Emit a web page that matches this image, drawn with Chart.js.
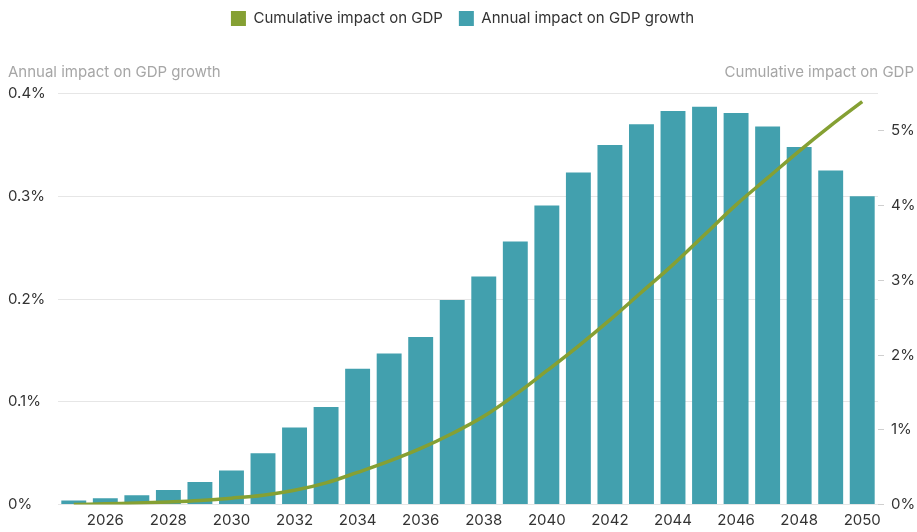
<!DOCTYPE html>
<html>
<head>
<meta charset="utf-8">
<script src="https://cdn.jsdelivr.net/npm/chart.js@4"></script>
<style>
  html, body { margin: 0; padding: 0; background: #fff; }
  #wrap { width: 917px; height: 532px; }
</style>
</head>
<body>
<div id="wrap"><canvas id="chart"></canvas></div>
<script>
const years = ['2025', '2026', '2027', '2028', '2029', '2030', '2031', '2032', '2033', '2034', '2035', '2036', '2037',
  '2038', '2039', '2040', '2041', '2042', '2043', '2044', '2045', '2046', '2047', '2048', '2049', '2050'];

// annual impact on GDP growth, % (left axis)
const annualImpact = [0.004, 0.006, 0.009, 0.014, 0.022, 0.033, 0.050, 0.075, 0.095, 0.132, 0.147, 0.163, 0.199,
  0.222, 0.256, 0.291, 0.323, 0.350, 0.370, 0.383, 0.387, 0.381, 0.368, 0.348, 0.325, 0.300];

// cumulative impact on GDP, % (right axis)
const cumulativeImpact = [0.0, 0.01, 0.02, 0.035, 0.055, 0.085, 0.125, 0.19, 0.29, 0.43, 0.58, 0.75, 0.95,
  1.18, 1.47, 1.79, 2.12, 2.47, 2.84, 3.21, 3.61, 4.01, 4.37, 4.73, 5.07, 5.39];

const leftTitle = 'Annual impact on GDP growth';
const rightTitle = 'Cumulative impact on GDP';

const FONT = 'Inter, "Noto Sans", sans-serif';

// axis titles sit horizontally above each y axis
const axisTitles = {
  id: 'axisTitles',
  afterDraw(chart) {
    const { ctx, chartArea } = chart;
    ctx.save();
    ctx.font = '15px ' + FONT;
    ctx.fillStyle = '#a6a6a6';
    ctx.textBaseline = 'middle';
    ctx.textAlign = 'left';
    ctx.fillText(leftTitle, 8, chartArea.top - 21);
    ctx.textAlign = 'right';
    ctx.fillText(rightTitle, chart.width - 3, chartArea.top - 21);
    ctx.restore();
  }
};

new Chart(document.getElementById('chart'), {
  data: {
    labels: years,
    datasets: [
      {
        type: 'line',
        label: 'Cumulative impact on GDP',
        data: cumulativeImpact,
        yAxisID: 'y2',
        borderColor: '#85a033',
        backgroundColor: '#85a033',
        borderWidth: 3.5,
        pointRadius: 0,
        tension: 0.4,
      },
      {
        type: 'bar',
        label: 'Annual impact on GDP growth',
        data: annualImpact,
        yAxisID: 'y',
        backgroundColor: '#42a0ae',
        categoryPercentage: 1,
        barPercentage: 0.79,
      },
    ],
  },
  options: {
    responsive: true,
    maintainAspectRatio: false,
    animation: false,
    layout: { padding: { left: 8, right: 0, top: -5, bottom: 0 } },
    plugins: {
      legend: {
        display: true,
        labels: {
          font: { family: FONT, size: 15 },
          color: '#333',
          boxWidth: 15,
          boxHeight: 15,
          padding: 16,
          generateLabels(chart) {
            const items = Chart.defaults.plugins.legend.labels.generateLabels(chart);
            items.forEach(it => { it.lineWidth = 0; });
            return items;
          },
        },
      },
      title: {
        display: true,
        text: ' ',
        weight: 500,
        font: { size: 15 },
        padding: { top: 19, bottom: 20.5 },
      },
      tooltip: { enabled: false },
    },
    scales: {
      x: {
        grid: { display: false, drawTicks: false },
        border: { display: false },
        ticks: {
          autoSkip: false,
          maxRotation: 0,
          padding: 7,
          color: '#333',
          font: { family: FONT, size: 15 },
          callback: (v, i) => (i % 2 === 1 ? years[i] : ''),
        },
        afterFit: s => { s.height = 27.5; },
      },
      y: {
        position: 'left',
        min: 0,
        max: 0.4,
        grid: { color: '#e6e6e6', drawTicks: false },
        border: { display: false },
        ticks: {
          stepSize: 0.1,
          crossAlign: 'far',
          color: '#333',
          font: { family: FONT, size: 15 },
          callback: v => (Math.round(v * 10) / 10) + '%',
        },
        afterFit: s => { s.width = 50; },
      },
      y2: {
        position: 'right',
        min: 0,
        max: 5.5,
        grid: { drawOnChartArea: false, drawTicks: true, tickLength: 6, tickColor: '#cfcfcf' },
        border: { display: false },
        ticks: {
          stepSize: 1,
          includeBounds: false,
          padding: 7,
          color: '#333',
          font: { family: FONT, size: 15 },
          callback: v => v + '%',
        },
        afterFit: s => { s.width = 39; },
      },
    },
  },
  plugins: [axisTitles],
});
</script>
</body>
</html>
